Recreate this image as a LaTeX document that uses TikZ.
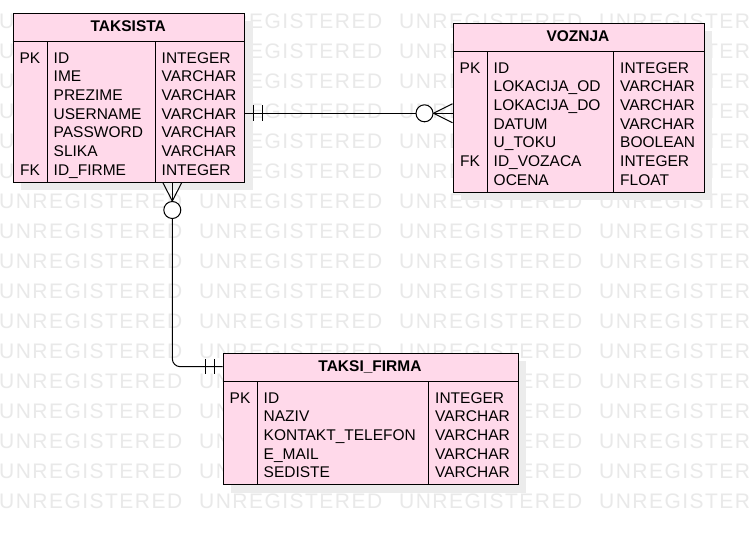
\documentclass[tikz,border=0pt]{standalone}
\usepackage{fontspec}
\setmainfont{Liberation Sans}
\newfontfamily\wmfont[LetterSpace=7]{Liberation Sans}
\usetikzlibrary{calc,shadows}

\definecolor{erpink}{RGB}{255,217,234}
\definecolor{wmgray}{RGB}{233,233,233}
\definecolor{shadowgray}{RGB}{236,236,236}
\newcommand{\erfont}{\fontsize{15.5}{18}\selectfont}

\begin{document}
\begin{tikzpicture}[x=1pt,y=-1pt,
    entity/.style={draw, line width=1pt, fill=erpink, anchor=north west, inner sep=0pt,
      drop shadow={fill=shadowgray, opacity=1, shadow xshift=8pt, shadow yshift=-8pt}},
    sep/.style={line width=1pt},
    title/.style={anchor=base, inner sep=0pt, font=\erfont\bfseries},
    key/.style={anchor=base, inner sep=0pt, font=\erfont},
    field/.style={anchor=base west, inner sep=0pt, font=\erfont},
    wmtext/.style={anchor=base west, inner sep=0pt, text=wmgray, font=\wmfont\fontsize{21}{21}\selectfont},
    rel/.style={line width=1pt},
    opt/.style={circle, draw, fill=white, line width=1pt, minimum size=17pt, inner sep=0pt}]

    % Page and background
    \useasboundingbox (0,0) rectangle (753,533);
    \fill[white] (0,0) rectangle (753,533);

    % Watermark rows
    \begin{scope}
        \clip (0,0) rectangle (753,533);
        \foreach \r in {0,...,16} {
            \foreach \c in {0,...,3} {
                \node[wmtext] (wm-\r-\c) at ({-1+200*\c},{28.8+30*\r}) {UNREGISTERED};
            }
        }
    \end{scope}

    % Draw the TAKSISTA table
    \node[entity, minimum width=231.5pt, minimum height=169pt] (taksista) at (12.5,12.5) {};
    \draw[sep] (12.5,41.5) -- (244,41.5);
    \draw[sep] (47.5,41.5) -- (47.5,181.5) (155,41.5) -- (155,181.5);
    \node[title] (taksista-title) at (128.25,31.5) {TAKSISTA};
    \node[key] (taksista-pk) at (30,63) {PK};
    \node[key] (taksista-fk) at (30,{63+6*18.72}) {FK};
    \foreach \name/\type [count=\i from 0] in {ID/INTEGER, IME/VARCHAR, PREZIME/VARCHAR,
        USERNAME/VARCHAR, PASSWORD/VARCHAR, SLIKA/VARCHAR, ID\_FIRME/INTEGER} {
        \node[field] (taksista-n\i) at (53.5,{63+18.72*\i}) {\name};
        \node[field] (taksista-t\i) at (161.5,{63+18.72*\i}) {\type};
    }

    % Draw the VOZNJA table
    \node[entity, minimum width=251pt, minimum height=169pt] (voznja) at (452.5,22.5) {};
    \draw[sep] (452.5,51.5) -- (703.5,51.5);
    \draw[sep] (487.5,51.5) -- (487.5,191.5) (613.5,51.5) -- (613.5,191.5);
    \node[title] (voznja-title) at (578,41.5) {VOZNJA};
    \node[key] (voznja-pk) at (470,73) {PK};
    \node[key] (voznja-fk) at (470,{73+5*18.72}) {FK};
    \foreach \name/\type [count=\i from 0] in {ID/INTEGER, LOKACIJA\_OD/VARCHAR,
        LOKACIJA\_DO/VARCHAR, DATUM/VARCHAR, U\_TOKU/BOOLEAN, ID\_VOZACA/INTEGER, OCENA/FLOAT} {
        \node[field] (voznja-n\i) at (493.5,{73+18.72*\i}) {\name};
        \node[field] (voznja-t\i) at (620,{73+18.72*\i}) {\type};
    }

    % Draw the TAKSI_FIRMA table
    \node[entity, minimum width=295pt, minimum height=131.5pt] (firma) at (222.5,352.5) {};
    \draw[sep] (222.5,381.5) -- (517.5,381.5);
    \draw[sep] (257.5,381.5) -- (257.5,484) (428.5,381.5) -- (428.5,484);
    \node[title] (firma-title) at (370,371.5) {TAKSI\_FIRMA};
    \node[key] (firma-pk) at (240,403) {PK};
    \foreach \name/\type [count=\i from 0] in {ID/INTEGER, NAZIV/VARCHAR,
        KONTAKT\_TELEFON/VARCHAR, E\_MAIL/VARCHAR, SEDISTE/VARCHAR} {
        \node[field] (firma-n\i) at (263.5,{403+18.72*\i}) {\name};
        \node[field] (firma-t\i) at (435,{403+18.72*\i}) {\type};
    }

    % TAKSISTA -- VOZNJA (one to zero or many)
    \coordinate (j1) at (0,113.3);
    \coordinate (a1) at (taksista.east |- j1);
    \coordinate (b1) at (voznja.west |- j1);
    \draw[rel] (a1) -- (b1);
    \draw[rel] ($(a1)+(8.5,-8)$) -- ($(a1)+(8.5,8)$);
    \draw[rel] ($(a1)+(17,-8)$) -- ($(a1)+(17,8)$);
    \node[opt] (o1) at ($(b1)+(-28,0)$) {};
    \draw[rel] (o1.east) -- ($(b1)+(0,-9.5)$);
    \draw[rel] (o1.east) -- ($(b1)+(0,9.5)$);

    % TAKSI_FIRMA -- TAKSISTA (one to zero or many)
    \coordinate (j2) at (172.3,0);
    \coordinate (j3) at (0,366.7);
    \coordinate (a2) at (taksista.south -| j2);
    \coordinate (b2) at (firma.west |- j3);
    \node[opt] (o2) at ($(a2)+(0,27.5)$) {};
    \draw[rel] (o2.north) -- ($(a2)+(-9.5,0)$);
    \draw[rel] (o2.north) -- (a2);
    \draw[rel] (o2.north) -- ($(a2)+(9.5,0)$);
    \draw[rel, rounded corners=8pt] (o2.south) |- (b2);
    \draw[rel] ($(b2)+(-8.5,-7.5)$) -- ($(b2)+(-8.5,7.5)$);
    \draw[rel] ($(b2)+(-17,-7.5)$) -- ($(b2)+(-17,7.5)$);

\end{tikzpicture}
\end{document}
